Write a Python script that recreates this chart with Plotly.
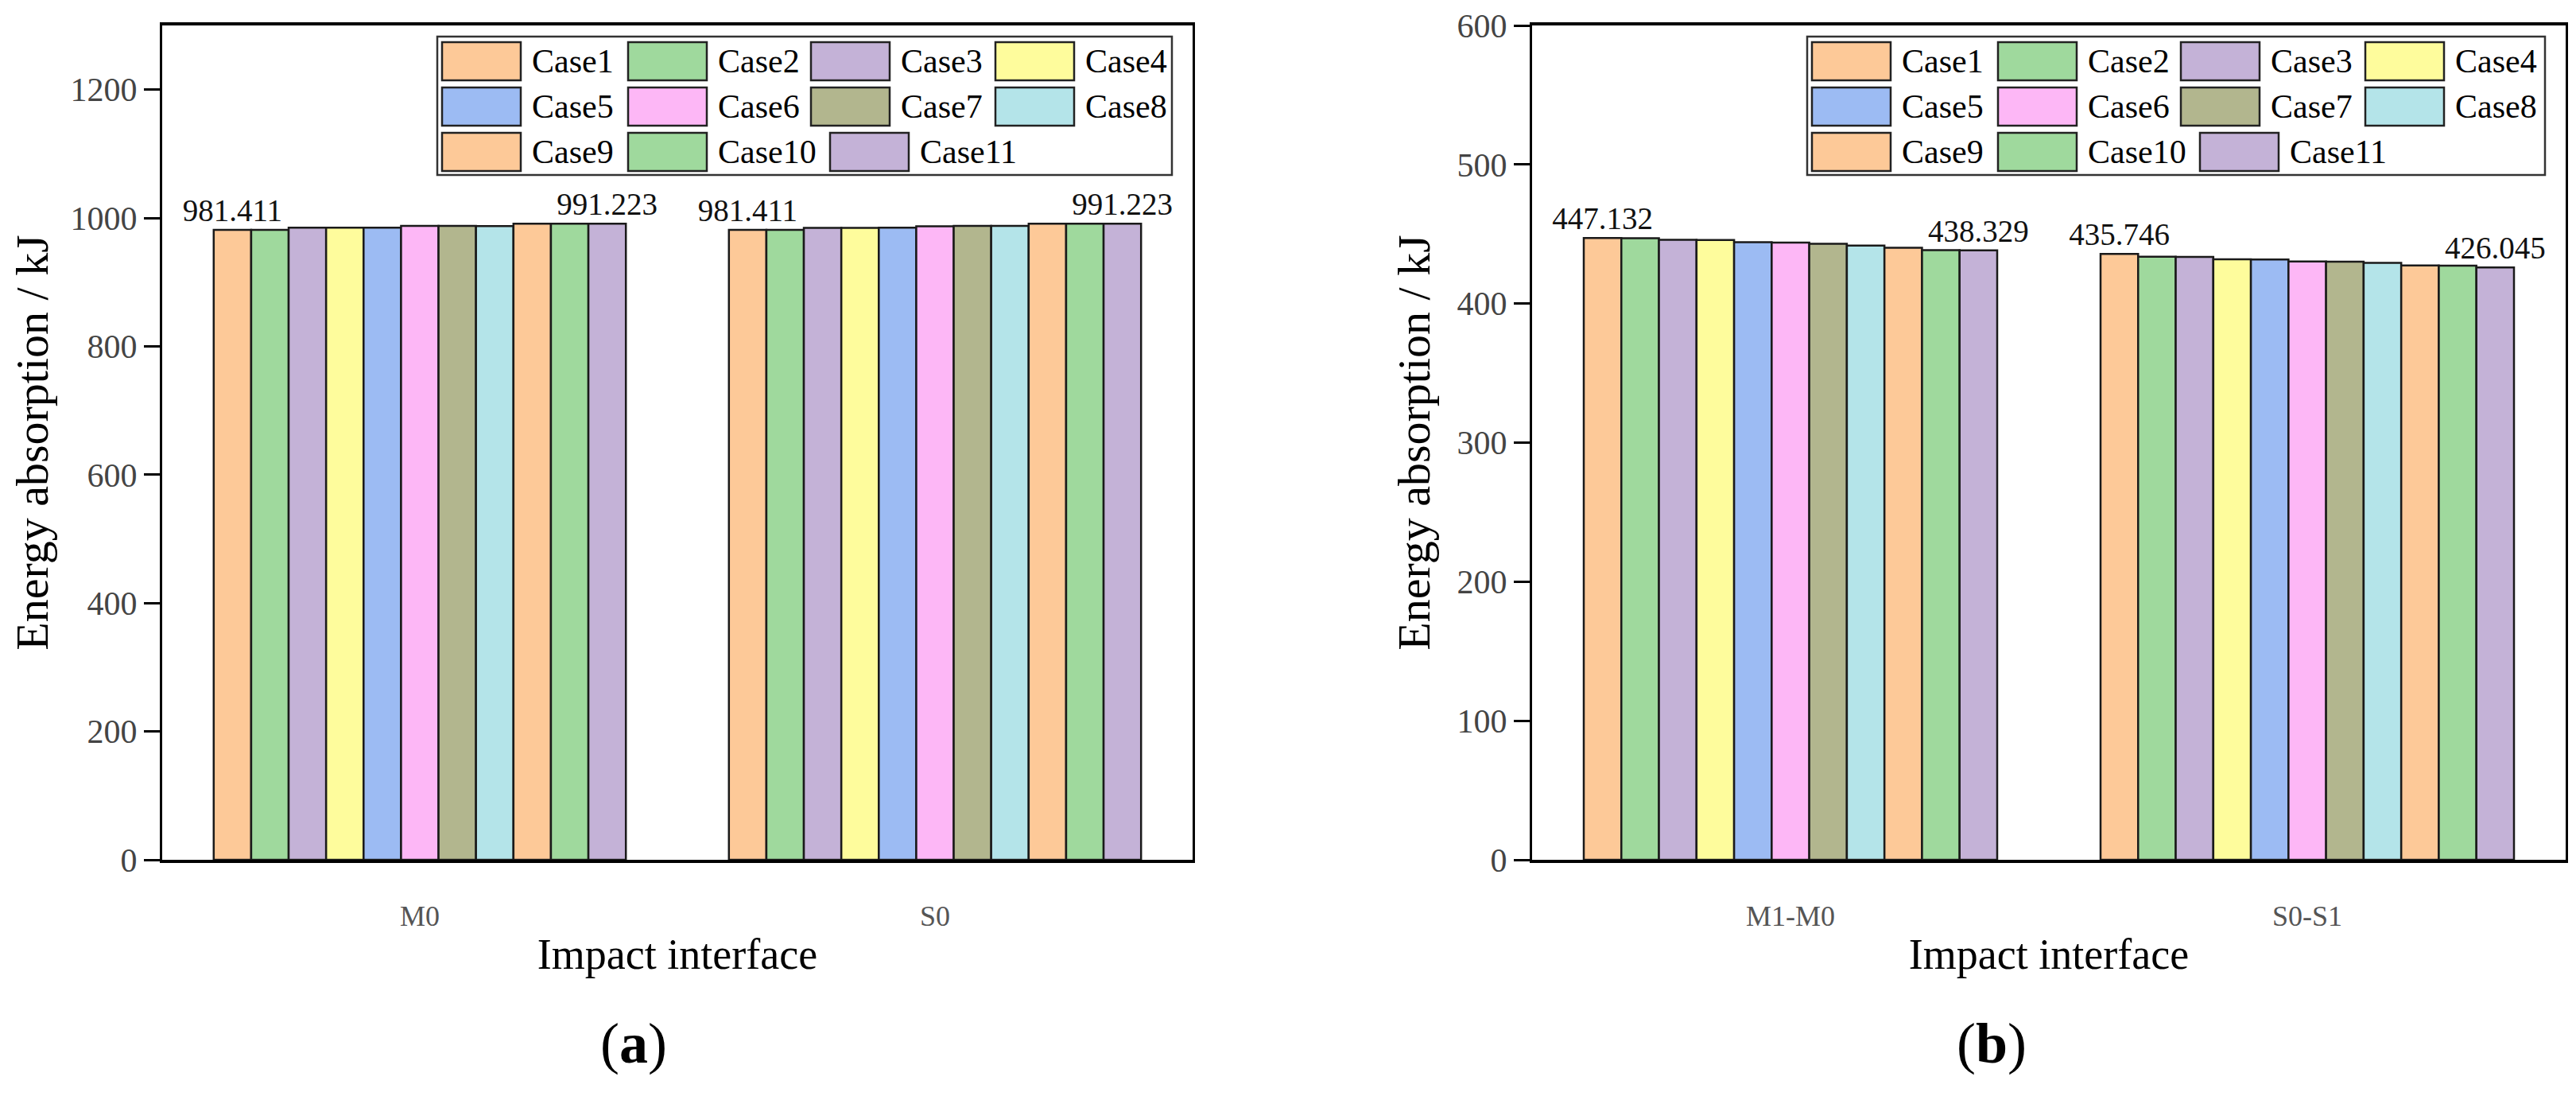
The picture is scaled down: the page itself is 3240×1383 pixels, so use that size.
import plotly.graph_objects as go

# ---------------- data ----------------
cases = ["Case1", "Case2", "Case3", "Case4", "Case5", "Case6",
         "Case7", "Case8", "Case9", "Case10", "Case11"]
cat_a = ["M0", "S0"]
cat_b = ["M1-M0", "S0-S1"]

# panel (a): [M0, S0] per case
a_M0 = [981.411, 981.6, 984.8, 984.9, 985.0, 987.6, 987.7, 987.3, 991.0, 991.1, 991.223]
a_S0 = [981.411, 981.5, 984.5, 984.6, 984.8, 987.2, 987.7, 987.8, 991.1, 991.2, 991.223]
# panel (b): [M1-M0, S0-S1] per case
b_M1M0 = [447.132, 447.0, 445.8, 445.7, 444.2, 443.9, 443.0, 441.7, 440.1, 438.4, 438.329]
b_S0S1 = [435.746, 433.7, 433.6, 431.8, 431.7, 430.2, 430.1, 429.2, 427.4, 427.3, 426.045]

yticks_a = [0, 200, 400, 600, 800, 1000, 1200]
yticks_b = [0, 100, 200, 300, 400, 500, 600]

colors = ["#FDC998", "#9FD99D", "#C4B2D7", "#FEFC9C", "#9CBBF3", "#FDB7F6",
          "#B2B68E", "#B4E4E9", "#FDC998", "#9FD99D", "#C4B2D7"]

# ---------------- layout geometry (pixels) ----------------
W, H = 3240, 1383
OFF_X, OFF_Y = 8, 2  # page body margin compensation
FONT = "Liberation Serif, Times New Roman, serif"
panels = {
    "a": dict(left=204 - OFF_X, right=1500 - OFF_X, top=26 - OFF_Y, bottom=1075 - OFF_Y),
    "b": dict(left=1927 - OFF_X, right=3227 - OFF_X, top=26 - OFF_Y, bottom=1075 - OFF_Y),
}

def xdom(p):
    return [p["left"] / W, p["right"] / W]

def ydom(p):
    return [1 - p["bottom"] / H, 1 - p["top"] / H]

fig = go.Figure()

def add_bars(xname, yname, cats, v1, v2, lg):
    for i, name in enumerate(cases):
        show_text = i in (0, len(cases) - 1)
        fig.add_trace(go.Bar(
            name=name, x=cats, y=[v1[i], v2[i]],
            xaxis=xname, yaxis=yname,
            marker=dict(color=colors[i], line=dict(color="#1a1a1a", width=2.5)),
            texttemplate="%{y:.3f}" if show_text else None,
            textposition="outside" if show_text else "none",
            textfont=dict(family=FONT, size=39, color="#111"),
            constraintext="none", cliponaxis=False,
            showlegend=False, legendgroup=lg,
        ))

add_bars("x", "y", cat_a, a_M0, a_S0, "a")
add_bars("x2", "y2", cat_b, b_M1M0, b_S0S1, "b")

axis_common = dict(showgrid=False, zeroline=False, showline=True,
                   linecolor="black", mirror=True, automargin=False,
                   ticklabeloverflow="allow")

def xaxis_cfg(p, anchor):
    return dict(axis_common, domain=xdom(p), anchor=anchor, linewidth=4,
                range=[-0.5, 1.5], type="category",
                ticks="outside", ticklen=36, tickcolor="rgba(0,0,0,0)",
                tickfont=dict(family=FONT, size=36, color="#555"),
                title=dict(text="Impact interface", standoff=10,
                           font=dict(family=FONT, size=54, color="black")))

def yaxis_cfg(p, anchor, rng, tv):
    return dict(axis_common, domain=ydom(p), anchor=anchor, linewidth=3,
                range=rng, tickvals=tv, ticks="outside", ticklen=20,
                tickwidth=3, tickcolor="black",
                tickfont=dict(family=FONT, size=42, color="#444"),
                title=dict(text="Energy absorption / kJ", standoff=16,
                           font=dict(family=FONT, size=58, color="black")))

fig.update_layout(
    width=W, height=H, autosize=False,
    margin=dict(l=0, r=0, t=0, b=0, autoexpand=False),
    paper_bgcolor="white", plot_bgcolor="white",
    barmode="group", bargap=0.2, bargroupgap=0,
    showlegend=False,
    xaxis=xaxis_cfg(panels["a"], "y"),
    yaxis=yaxis_cfg(panels["a"], "x", [0, 1300], yticks_a),
    xaxis2=xaxis_cfg(panels["b"], "y2"),
    yaxis2=yaxis_cfg(panels["b"], "x2", [0, 600], yticks_b),
)

# ---------------- custom legend (large swatches) ----------------
slots = [(0, 6), (0, 240), (0, 470), (0, 702),
         (1, 6), (1, 240), (1, 470), (1, 702),
         (2, 6), (2, 240), (2, 494)]
row_tops = [7, 64, 121]
SW_W, SW_H, TXT_DX = 99, 48, 111

shapes, annots = [], []

def add_legend(p, xr, yr):
    pw = p["right"] - p["left"]
    ph = p["bottom"] - p["top"]
    fx = lambda px: (px - p["left"]) / pw
    fy = lambda py: (p["bottom"] - py) / ph
    bl, br = p["left"] + 346, p["right"] - 26
    bt, bb = p["top"] + 14, p["top"] + 188
    shapes.append(dict(type="rect", xref=xr + " domain", yref=yr + " domain",
                       x0=fx(bl), x1=fx(br), y0=fy(bb), y1=fy(bt),
                       line=dict(color="#333", width=2.5), fillcolor="white",
                       layer="above"))
    for i, name in enumerate(cases):
        row, dx = slots[i]
        x0 = bl + dx
        y0 = bt + row_tops[row]
        shapes.append(dict(type="rect", xref=xr + " domain", yref=yr + " domain",
                           x0=fx(x0), x1=fx(x0 + SW_W), y0=fy(y0 + SW_H), y1=fy(y0),
                           line=dict(color="#222", width=2.5), fillcolor=colors[i],
                           layer="above"))
        annots.append(dict(text=name, xref=xr + " domain", yref=yr + " domain",
                           x=fx(x0 + TXT_DX), y=fy(y0 + SW_H / 2),
                           xanchor="left", yanchor="middle", showarrow=False,
                           font=dict(family=FONT, size=42, color="black")))

add_legend(panels["a"], "x", "y")
add_legend(panels["b"], "x2", "y2")

annots.append(dict(text="(<b>a</b>)", xref="paper", yref="paper",
                   x=(797 - OFF_X) / W, y=1 - (1306 - OFF_Y) / H,
                   xanchor="center", yanchor="middle", showarrow=False,
                   font=dict(family=FONT, size=72, color="black")))
annots.append(dict(text="(<b>b</b>)", xref="paper", yref="paper",
                   x=(2505 - OFF_X) / W, y=1 - (1306 - OFF_Y) / H,
                   xanchor="center", yanchor="middle", showarrow=False,
                   font=dict(family=FONT, size=72, color="black")))

fig.update_layout(shapes=shapes, annotations=annots)

fig.write_html("out.html")
